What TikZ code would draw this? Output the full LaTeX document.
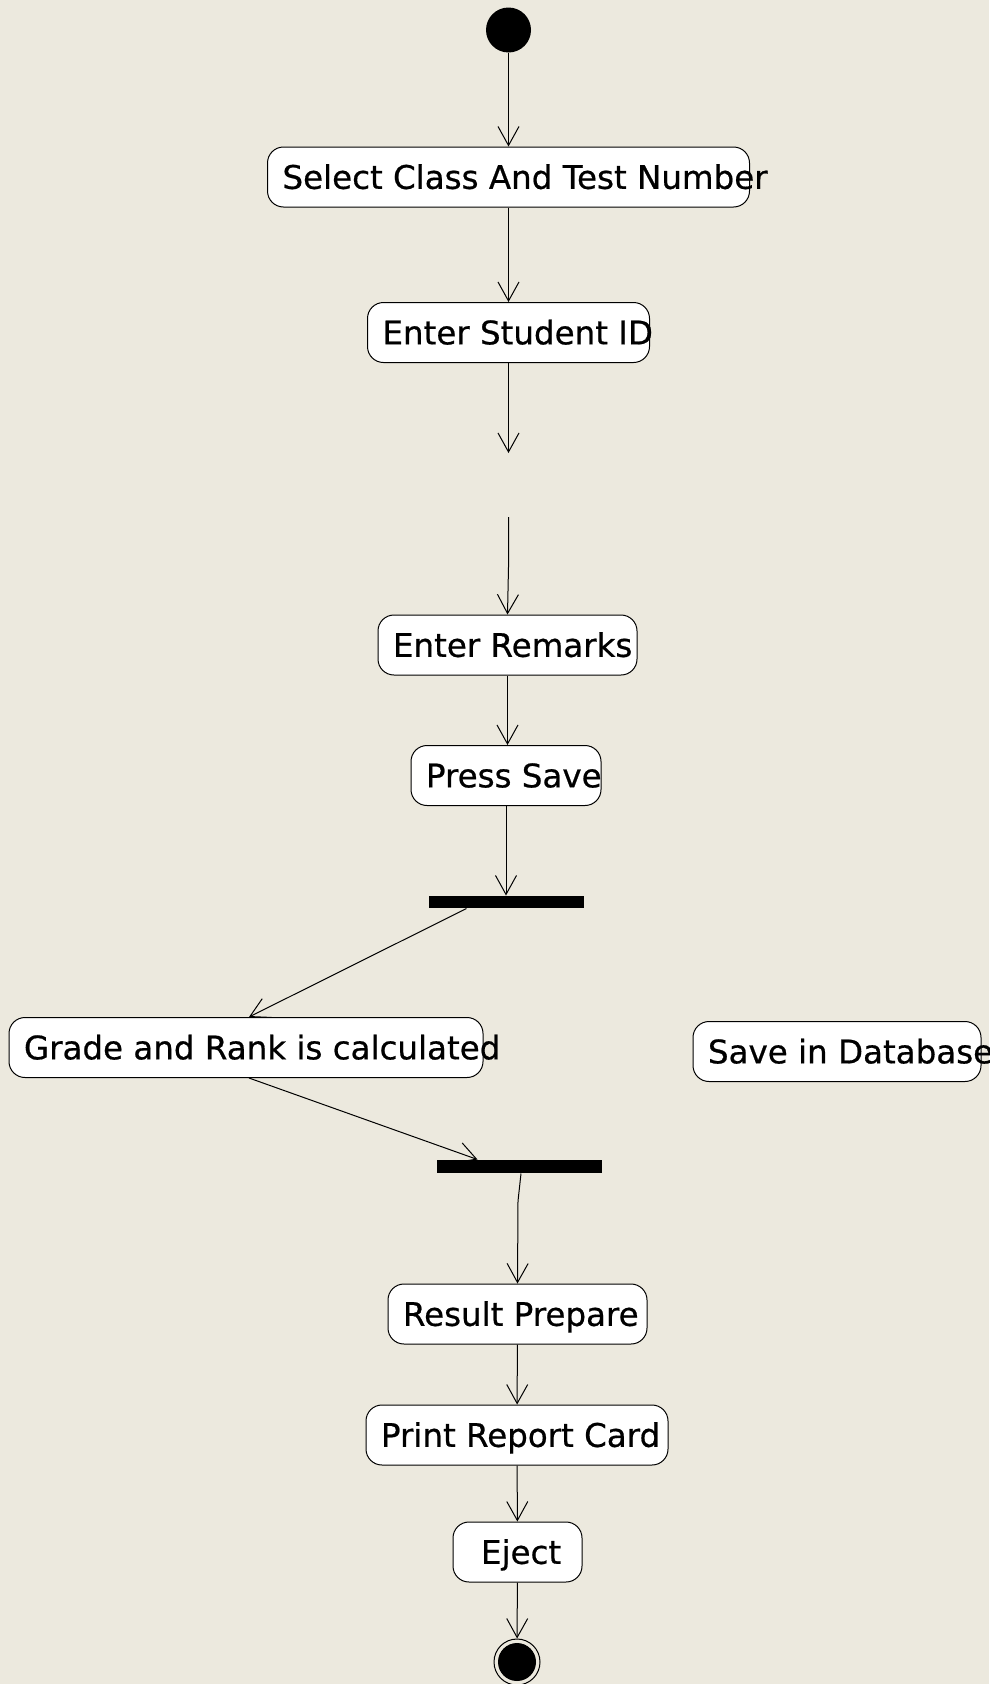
\documentclass[tikz,border=0pt]{standalone}
\usepackage{fontspec}
\setmainfont{DejaVu Sans}
\newfontfamily\diagfont[FakeBold=0.6]{DejaVu Sans}
\usetikzlibrary{arrows.meta}
\definecolor{panelbg}{RGB}{236,233,222}
\tikzset{every picture/.style={line width=1pt}}
\tikzset{
  activity/.style={draw, fill=white, rounded corners=16pt, minimum height=60pt,
    inner sep=0pt, text height=23.7pt, text depth=0pt, font=\diagfont\fontsize{32.5}{39}\selectfont},
  forkbar/.style={fill=black, inner sep=0pt},
  flow/.style={-{Straight Barb[length=19pt,width=21pt]}},
}
\begin{document}
\begin{tikzpicture}[x=1pt,y=1pt,yscale=-1]
	%set diagram frame: 989 wide, 1684 high
	\fill[panelbg] (0,0) rectangle (989,1684);
	\useasboundingbox (0,0) rectangle (989,1684);

	%Shape: Circle (initial)
	\node[circle, fill=black, minimum size=45pt, inner sep=0pt] (start) at (508.5,30) {};

	%Shape: Rounded Rectangles (activities)
	\node[activity, minimum width=482pt] (select) at (508.5,177) {\makebox[452pt][l]{Select Class And Test Number}};
	\node[activity, minimum width=282pt] (studentid) at (508.5,332.5) {\makebox[252pt][l]{Enter Student ID}};
	\node[activity, minimum width=259pt] (remarks) at (507.5,645) {\makebox[229pt][l]{Enter Remarks}};
	\node[activity, minimum width=190pt] (presssave) at (506,775.5) {\makebox[160pt][l]{Press Save}};
	%Shape: Bar (fork)
	\node[forkbar, minimum width=155pt, minimum height=12pt] (fork) at (506.5,902) {};
	\node[activity, minimum width=474pt] (grade) at (246,1047.5) {\makebox[444pt][l]{Grade and Rank is calculated}};
	\node[activity, minimum width=288pt] (database) at (837,1051.5) {\makebox[258pt][l]{Save in Database}};
	%Shape: Bar (join)
	\node[forkbar, minimum width=165pt, minimum height=13pt] (join) at (519.5,1166.5) {};
	\node[activity, minimum width=259pt] (result) at (517.5,1314) {\makebox[229pt][l]{Result Prepare}};
	\node[activity, minimum width=302pt] (report) at (517,1435) {\makebox[272pt][l]{Print Report Card}};
	\node[activity, minimum width=129pt] (eject) at (517.5,1552) {\makebox[73pt][l]{Eject}};

	%Shape: Circle (final)
	\node[circle, draw, minimum size=46pt, inner sep=0pt] (final) at (517,1662) {};
	\node[circle, fill=black, minimum size=38pt, inner sep=0pt] (finaldot) at (final) {};

	%loose ends of the broken flow
	\coordinate (gapend) at (508.5,453);
	\coordinate (gapstart) at (508.5,517);
	\coordinate (bend) at (508.5,567);
	\coordinate (joinbend) at (518,1201);

	%Straight Lines (flows)
	\draw[flow] (start) -- (select);
	\draw[flow] (select) -- (studentid);
	\draw[flow] (studentid) -- (gapend);
	\draw[flow] (gapstart) -- (bend) -- (remarks.north);
	\draw[flow] (remarks.south) -- (remarks.south |- presssave.north);
	\draw[flow] (presssave.south) -- (presssave.south |- fork.north);
	\draw[flow] ([xshift=-40pt]fork.south) -- ([xshift=3pt]grade.north);
	\draw[flow] ([xshift=3pt]grade.south) -- ([xshift=-42pt]join.north);
	\draw[flow] ([xshift=1.5pt]join.south) -- (joinbend) -- (result.north);
	\draw[flow] (result) -- (report);
	\draw[flow] (report) -- (eject);
	\draw[flow] (eject) -- (final);
\end{tikzpicture}
\end{document}
